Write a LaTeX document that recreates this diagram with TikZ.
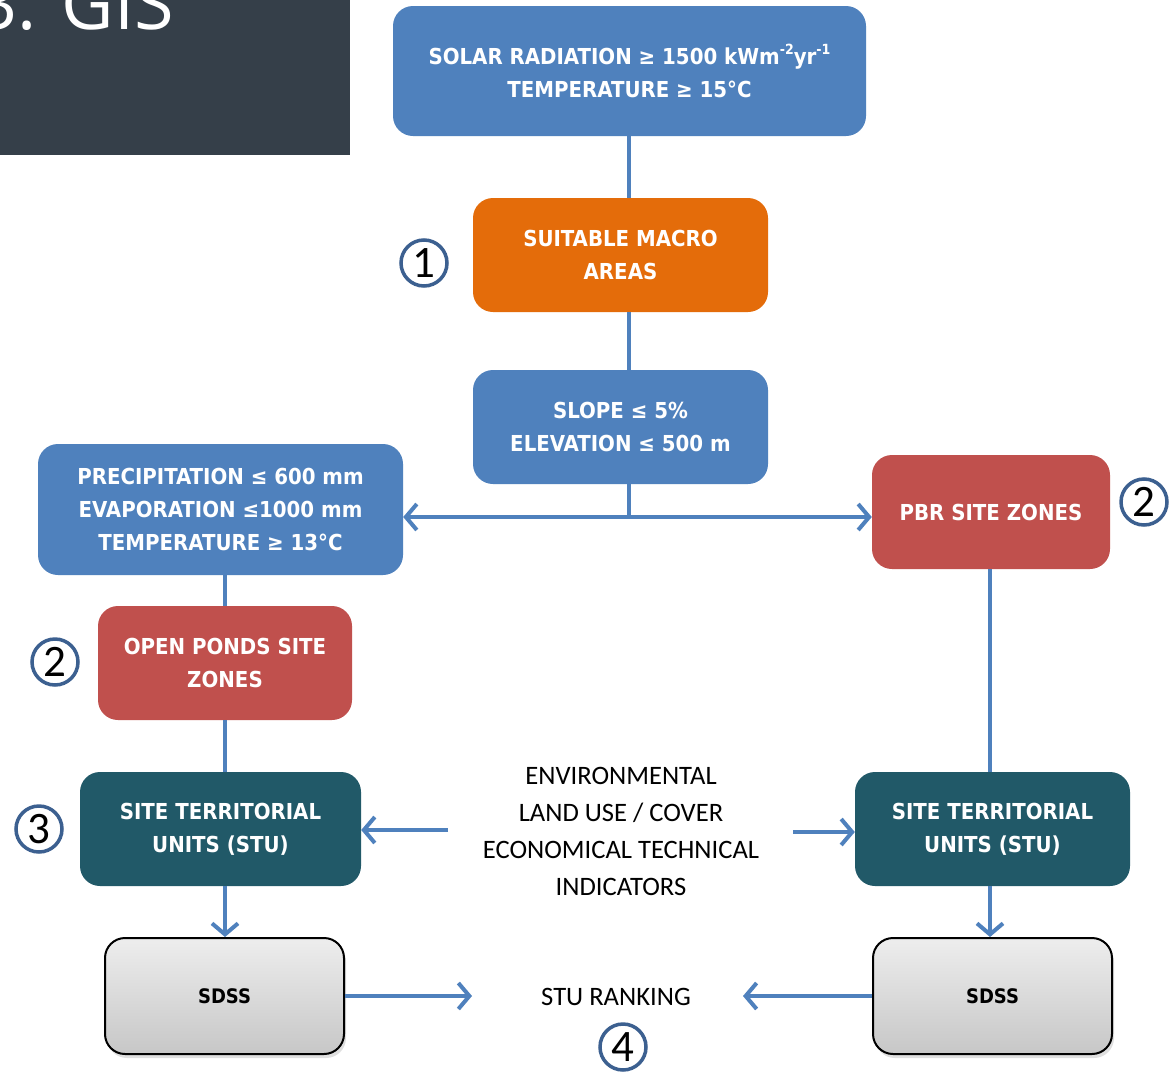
\documentclass[tikz,border=0pt]{standalone}
\usepackage{fontspec}
\setmainfont{Carlito}
\newfontfamily\boxfont{DejaVu Sans Condensed}
\newfontfamily\titlefont{Open Sans}
\usetikzlibrary{arrows.meta,shadows}

\definecolor{critblue}{HTML}{4F81BD}
\definecolor{zoneorange}{HTML}{E46C0A}
\definecolor{zonered}{HTML}{C0504D}
\definecolor{stuteal}{HTML}{215968}
\definecolor{flowline}{HTML}{4F81BD}
\definecolor{ringblue}{HTML}{3C6090}
\definecolor{slate}{HTML}{353F49}

\newcommand\sups[1]{\raisebox{0.45em}{\fontsize{14}{14}\selectfont #1}}

\tikzset{
  box/.style={rounded corners=20pt, text=white, align=center, inner sep=0pt,
    font=\boxfont\bfseries\fontsize{22}{33}\selectfont},
  sdss/.style={rounded corners=20pt, draw=black, line width=2pt, align=center,
    top color=white!93!black, bottom color=white!78!black,
    drop shadow={shadow xshift=2pt, shadow yshift=-4pt, opacity=0.25},
    font=\boxfont\bfseries\fontsize{20}{26}\selectfont,
    minimum width=239pt, minimum height=116pt},
  flow/.style={draw=flowline, line width=4pt},
  arr/.style={flow, -{Straight Barb[length=11pt, width=26pt]}},
  ring/.style={circle, draw=ringblue, line width=3.5pt, minimum size=46pt,
    inner sep=0pt, font=\fontsize{45}{45}\selectfont},
  plain/.style={align=center, font=\fontsize{26.6}{37}\selectfont, inner sep=0pt}
}

\begin{document}
\begin{tikzpicture}[x=1pt, y=-1pt]
\useasboundingbox (0,0) rectangle (1175,1071);
\fill[white] (0,0) rectangle (1175,1071);

% title panel, cut at the top edge
\begin{scope}
  \clip (0,0) rectangle (350,155);
  \fill[slate] (0,0) rectangle (350,155);
  \node[anchor=base east, inner sep=0pt, text=white,
        font=\titlefont\fontsize{72}{72}\selectfont] (title) at (174,29) {3. GIS};
\end{scope}

% boxes
\node[box, fill=critblue, minimum width=473pt, minimum height=130pt] (solar) at (629.5,71)
  {SOLAR RADIATION ≥ 1500 kWm\sups{-2}yr\sups{-1}\\TEMPERATURE ≥ 15°C};
\node[box, fill=zoneorange, minimum width=295pt, minimum height=114pt] (macro) at (620.5,255)
  {SUITABLE MACRO\\AREAS};
\node[box, fill=critblue, minimum width=295pt, minimum height=114pt] (slope) at (620.5,427)
  {SLOPE ≤ 5\%\\ELEVATION ≤ 500 m};
\node[box, fill=critblue, minimum width=365pt, minimum height=131pt] (precip) at (220.5,509.5)
  {PRECIPITATION ≤ 600 mm\\EVAPORATION ≤1000 mm\\TEMPERATURE ≥ 13°C};
\node[box, fill=zonered, minimum width=238pt, minimum height=114pt] (pbr) at (991,512)
  {PBR SITE ZONES};
\node[box, fill=zonered, minimum width=254pt, minimum height=114pt] (ponds) at (225,663)
  {OPEN PONDS SITE\\ZONES};
\node[box, fill=stuteal, minimum width=281pt, minimum height=114pt] (stuL) at (220.5,829)
  {SITE TERRITORIAL\\UNITS (STU)};
\node[box, fill=stuteal, minimum width=275pt, minimum height=114pt] (stuR) at (992.5,829)
  {SITE TERRITORIAL\\UNITS (STU)};
\node[sdss] (sdssL) at (224.5,996) {SDSS};
\node[sdss] (sdssR) at (992.5,996) {SDSS};

% free texts
\node[plain] (crit) at (621,831)
  {ENVIRONMENTAL\\LAND USE / COVER\\ECONOMICAL TECHNICAL\\INDICATORS};
\node[plain] (rank) at (616,997) {STU RANKING};

% step numbers
\node[ring] (n1) at (424,263) {1};
\node[ring] (n2a) at (55,662) {2};
\node[ring] (n2b) at (1144,502) {2};
\node[ring] (n3) at (39,829) {3};
\node[ring] (n4) at (623,1047) {4};

% connector ends
\coordinate (split) at (629,517);
\coordinate (critL) at (448,830);
\coordinate (critR) at (793,832);
\coordinate (rankL) at (472,996);
\coordinate (rankR) at (743,996);

% main trunk
\draw[flow] (solar.south -| split) -- (macro.north -| split);
\draw[flow] (macro.south -| split) -- (slope.north -| split);
\draw[flow] (slope.south -| split) -- (split);
\draw[flow, {Straight Barb[length=11pt, width=26pt]}-{Straight Barb[length=11pt, width=26pt]}]
  (precip.east |- split) -- (pbr.west |- split);

% open ponds branch
\draw[flow] (precip.south -| ponds) -- (ponds.north);
\draw[flow] (ponds.south) -- (stuL.north -| ponds);
\draw[arr] (stuL.south -| ponds) -- (sdssL.north -| ponds);

% PBR branch
\draw[flow] (pbr.south -| 990,0) -- (stuR.north -| 990,0);
\draw[arr] (stuR.south -| 990,0) -- (sdssR.north -| 990,0);

% indicators into both STU sets
\draw[arr] (critL) -- (stuL.east |- critL);
\draw[arr] (critR) -- (stuR.west |- critR);

% SDSS results into the ranking
\draw[arr] (sdssL.east) -- (rankL);
\draw[arr] (sdssR.west) -- (rankR);
\end{tikzpicture}
\end{document}
